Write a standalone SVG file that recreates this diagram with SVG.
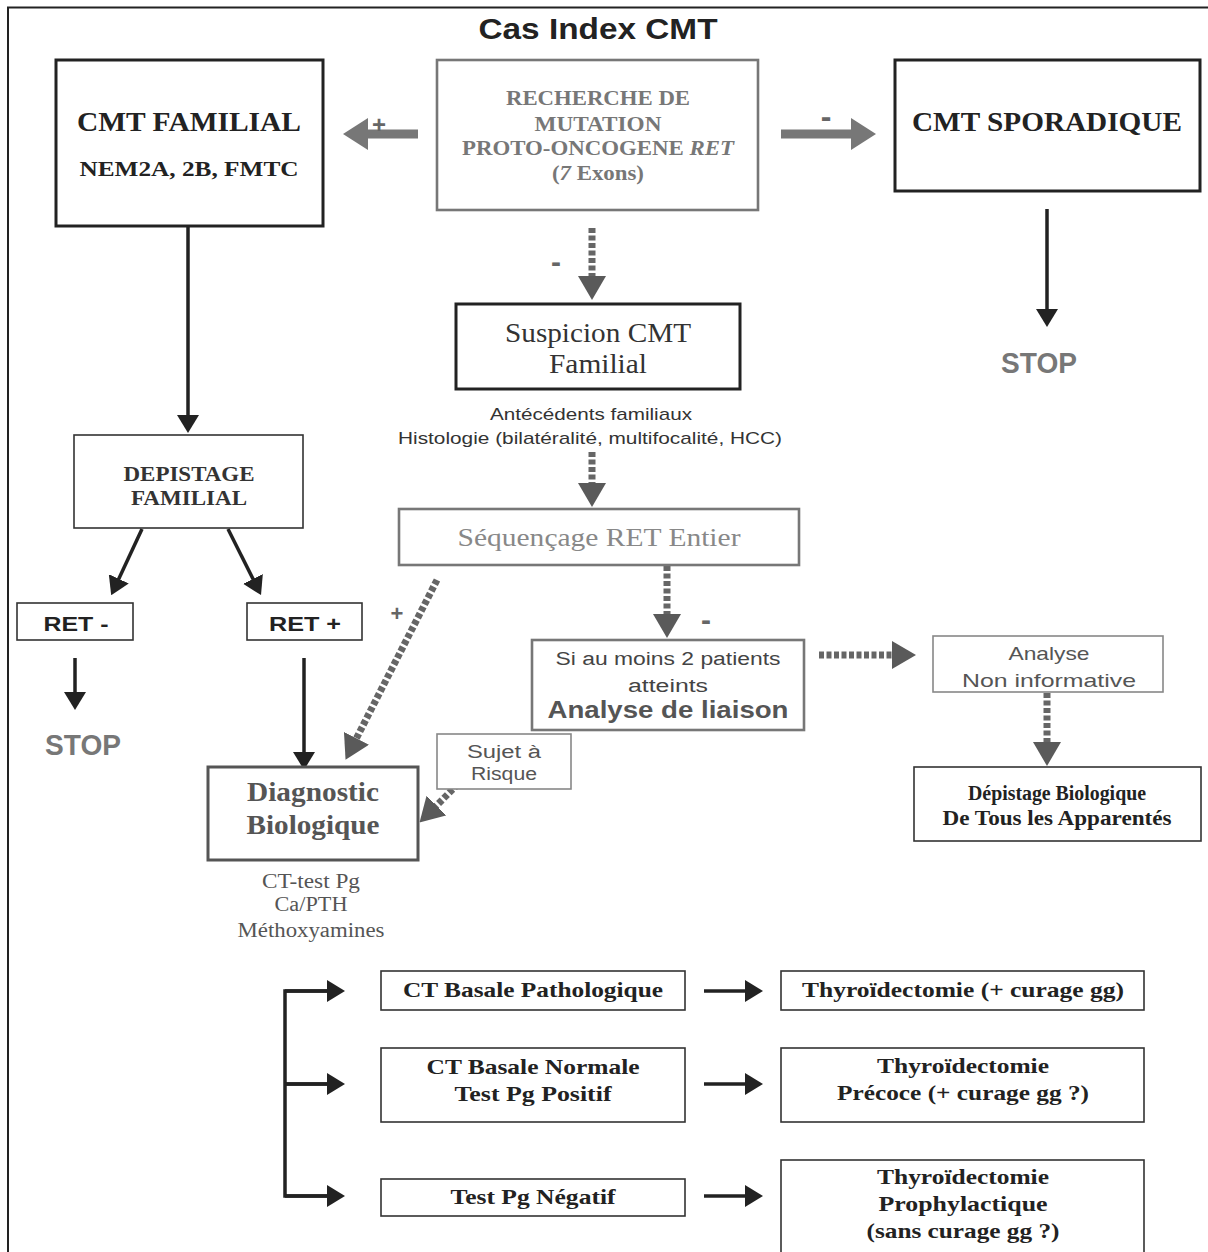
<svg xmlns="http://www.w3.org/2000/svg" width="1208" height="1252" viewBox="0 0 1208 1252">
<style>
.bx{fill:#fff;stroke:#222;stroke-width:3}
.bxt{fill:#fff;stroke:#333;stroke-width:1.6}
.bxg{fill:#fff;stroke:#777;stroke-width:2.6}
.bxgt{fill:#fff;stroke:#888;stroke-width:1.6}
.sb{font-family:"Liberation Serif",serif;font-weight:bold;text-anchor:middle}
.sr{font-family:"Liberation Serif",serif;text-anchor:middle}
.ss{font-family:"Liberation Sans",Arial,sans-serif;text-anchor:middle}
.ssb{font-family:"Liberation Sans",Arial,sans-serif;font-weight:bold;text-anchor:middle}
.sg{font-family:"Liberation Sans",Arial,sans-serif;font-weight:bold;text-anchor:middle;fill:#666}
.ln{fill:none;stroke:#222;stroke-width:3.5}
.dt{fill:none;stroke:#666;stroke-width:7;stroke-dasharray:5 2.5}
</style>
<defs>
<marker id="ab" viewBox="0 0 18 22" refX="9" refY="11" markerWidth="18" markerHeight="22" markerUnits="userSpaceOnUse" orient="auto"><path d="M0,0 L18,11 L0,22 z" fill="#222"/></marker>
<marker id="ag" viewBox="0 0 24 28" refX="12" refY="14" markerWidth="24" markerHeight="28" markerUnits="userSpaceOnUse" orient="auto"><path d="M0,0 L24,14 L0,28 z" fill="#5a5a5a"/></marker>
</defs>
<rect width="1208" height="1252" fill="#fff"/>
<path d="M8,1252 V7.5 H1208" fill="none" stroke="#222" stroke-width="2"/>
<text x="598" y="39" class="ssb" font-size="29" fill="#222" textLength="239" lengthAdjust="spacingAndGlyphs">Cas Index  CMT</text>

<g id="connectors">
<polygon points="343,134 368,118 368,129.5 418,129.5 418,138.5 368,138.5 368,150" fill="#777"/>
<polygon points="876,134 851,118 851,129.5 781,129.5 781,138.5 851,138.5 851,150" fill="#777"/>
<text x="379" y="133" class="sg" font-size="24">+</text>
<text x="826" y="127" class="sg" font-size="32">-</text>
<line x1="1047" y1="209" x2="1047" y2="318" class="ln" marker-end="url(#ab)"/>
<line x1="188" y1="226" x2="188" y2="424" class="ln" marker-end="url(#ab)"/>
<line x1="592" y1="228" x2="592" y2="288" class="dt" marker-end="url(#ag)"/>
<text x="556" y="272" class="sg" font-size="30">-</text>
<line x1="592" y1="452" x2="592" y2="495" class="dt" marker-end="url(#ag)"/>
<line x1="437" y1="580" x2="351" y2="749" class="dt" marker-end="url(#ag)"/>
<text x="397" y="621" class="sg" font-size="22">+</text>
<line x1="667" y1="566" x2="667" y2="626" class="dt" marker-end="url(#ag)"/>
<text x="706" y="630" class="sg" font-size="30">-</text>
<line x1="819" y1="655" x2="904" y2="655" class="dt" marker-end="url(#ag)"/>
<line x1="1047" y1="693" x2="1047" y2="754" class="dt" marker-end="url(#ag)"/>
<line x1="458" y1="784" x2="428" y2="814" class="dt" marker-end="url(#ag)"/>
<line x1="142" y1="529" x2="115" y2="587" class="ln" stroke-width="4" marker-end="url(#ab)"/>
<line x1="228" y1="529" x2="257" y2="587" class="ln" stroke-width="4" marker-end="url(#ab)"/>
<line x1="75" y1="658" x2="75" y2="701" class="ln" marker-end="url(#ab)"/>
<line x1="304" y1="658" x2="304" y2="761" class="ln" marker-end="url(#ab)"/>
<path d="M327,991 H285 V1196 H327 M285,1084 H327" class="ln" stroke-width="4"/>
<line x1="285" y1="991" x2="336" y2="991" class="ln" stroke-width="4" marker-end="url(#ab)"/>
<line x1="285" y1="1084" x2="336" y2="1084" class="ln" stroke-width="4" marker-end="url(#ab)"/>
<line x1="285" y1="1196" x2="336" y2="1196" class="ln" stroke-width="4" marker-end="url(#ab)"/>
<line x1="704" y1="991" x2="754" y2="991" class="ln" stroke-width="4" marker-end="url(#ab)"/>
<line x1="704" y1="1084" x2="754" y2="1084" class="ln" stroke-width="4" marker-end="url(#ab)"/>
<line x1="704" y1="1196" x2="754" y2="1196" class="ln" stroke-width="4" marker-end="url(#ab)"/>
</g>

<g id="cmt-familial">
<rect x="56" y="60" width="267" height="166" class="bx"/>
<text x="189" y="131" class="sb" font-size="28" fill="#222" textLength="224" lengthAdjust="spacingAndGlyphs">CMT FAMILIAL</text>
<text x="189" y="176" class="sb" font-size="22" fill="#222" textLength="219" lengthAdjust="spacingAndGlyphs">NEM2A, 2B, FMTC</text>
</g>
<g id="recherche">
<rect x="437" y="60" width="321" height="150" class="bxg"/>
<text x="598" y="105" class="sb" font-size="21" fill="#777" textLength="184" lengthAdjust="spacingAndGlyphs">RECHERCHE DE</text>
<text x="598" y="131" class="sb" font-size="21" fill="#777" textLength="127" lengthAdjust="spacingAndGlyphs">MUTATION</text>
<text x="598" y="155" class="sb" font-size="21" fill="#777" textLength="272" lengthAdjust="spacingAndGlyphs">PROTO-ONCOGENE <tspan font-style="italic">RET</tspan></text>
<text x="598" y="180" class="sb" font-size="21" fill="#777" textLength="92" lengthAdjust="spacingAndGlyphs">(<tspan font-style="italic">7</tspan> Exons)</text>
</g>
<g id="cmt-sporadique">
<rect x="895" y="60" width="305" height="131" class="bx"/>
<text x="1047" y="131" class="sb" font-size="28" fill="#222" textLength="270" lengthAdjust="spacingAndGlyphs">CMT SPORADIQUE</text>
</g>
<g id="stop-right">
<text x="1039" y="373" class="ssb" font-size="29" fill="#777" textLength="76" lengthAdjust="spacingAndGlyphs">STOP</text>
</g>
<g id="suspicion">
<rect x="456" y="304" width="284" height="85" class="bx"/>
<text x="598" y="342" class="sr" font-size="27" fill="#333" textLength="186" lengthAdjust="spacingAndGlyphs">Suspicion CMT</text>
<text x="598" y="373" class="sr" font-size="27" fill="#333" textLength="98" lengthAdjust="spacingAndGlyphs">Familial</text>
<text x="591" y="420" class="ss" font-size="17" fill="#333" textLength="202" lengthAdjust="spacingAndGlyphs">Antécédents  familiaux</text>
<text x="590" y="444" class="ss" font-size="17" fill="#333" textLength="384" lengthAdjust="spacingAndGlyphs">Histologie (bilatéralité,  multifocalité,  HCC)</text>
</g>
<g id="sequencage">
<rect x="399" y="509" width="400" height="56" class="bxg"/>
<text x="599" y="546" class="sr" font-size="26" fill="#888" textLength="283" lengthAdjust="spacingAndGlyphs">Séquençage RET Entier</text>
</g>
<g id="depistage-familial">
<rect x="74" y="435" width="229" height="93" class="bxt"/>
<text x="189" y="481" class="sb" font-size="20" fill="#333" textLength="131" lengthAdjust="spacingAndGlyphs">DEPISTAGE</text>
<text x="189" y="505" class="sb" font-size="20" fill="#333" textLength="116" lengthAdjust="spacingAndGlyphs">FAMILIAL</text>
</g>
<g id="ret-minus">
<rect x="17" y="603" width="116" height="37" class="bxt"/>
<text x="76" y="631" class="ssb" font-size="21" fill="#222" textLength="65" lengthAdjust="spacingAndGlyphs">RET  -</text>
</g>
<g id="ret-plus">
<rect x="247" y="603" width="115" height="37" class="bxt"/>
<text x="305" y="631" class="ssb" font-size="21" fill="#222" textLength="72" lengthAdjust="spacingAndGlyphs">RET  +</text>
</g>
<g id="stop-left">
<text x="83" y="755" class="ssb" font-size="29" fill="#777" textLength="76" lengthAdjust="spacingAndGlyphs">STOP</text>
</g>
<g id="liaison">
<rect x="532" y="640" width="272" height="90" class="bxg"/>
<text x="668" y="665" class="ss" font-size="18" fill="#444" textLength="225" lengthAdjust="spacingAndGlyphs">Si au moins 2 patients</text>
<text x="668" y="692" class="ss" font-size="18" fill="#444" textLength="80" lengthAdjust="spacingAndGlyphs">atteints</text>
<text x="668" y="718" class="ssb" font-size="23" fill="#555" textLength="241" lengthAdjust="spacingAndGlyphs">Analyse  de  liaison</text>
</g>
<g id="non-informative">
<rect x="933" y="636" width="230" height="56" class="bxgt"/>
<text x="1049" y="660" class="ss" font-size="19" fill="#555" textLength="81" lengthAdjust="spacingAndGlyphs">Analyse</text>
<text x="1049" y="687" class="ss" font-size="19" fill="#555" textLength="174" lengthAdjust="spacingAndGlyphs">Non  informative</text>
</g>
<g id="depistage-biologique">
<rect x="914" y="767" width="287" height="74" class="bxt"/>
<text x="1057" y="800" class="sb" font-size="20" fill="#222" textLength="178" lengthAdjust="spacingAndGlyphs">Dépistage Biologique</text>
<text x="1057" y="825" class="sb" font-size="20" fill="#222" textLength="229" lengthAdjust="spacingAndGlyphs">De Tous les Apparentés</text>
</g>
<g id="sujet-risque">
<rect x="437" y="734" width="134" height="55" class="bxgt"/>
<text x="504" y="758" class="ss" font-size="18" fill="#555" textLength="74" lengthAdjust="spacingAndGlyphs">Sujet à</text>
<text x="504" y="780" class="ss" font-size="18" fill="#555" textLength="66" lengthAdjust="spacingAndGlyphs">Risque</text>
</g>
<g id="diagnostic">
<rect x="208" y="767" width="210" height="93" fill="#fff" stroke="#555" stroke-width="3"/>
<text x="313" y="801" class="sb" font-size="27" fill="#555" textLength="132" lengthAdjust="spacingAndGlyphs">Diagnostic</text>
<text x="313" y="834" class="sb" font-size="27" fill="#555" textLength="133" lengthAdjust="spacingAndGlyphs">Biologique</text>
<text x="311" y="888" class="sr" font-size="20" fill="#555" textLength="98" lengthAdjust="spacingAndGlyphs">CT-test Pg</text>
<text x="311" y="911" class="sr" font-size="20" fill="#555" textLength="73" lengthAdjust="spacingAndGlyphs">Ca/PTH</text>
<text x="311" y="937" class="sr" font-size="20" fill="#555" textLength="147" lengthAdjust="spacingAndGlyphs">Méthoxyamines</text>
</g>
<g id="ct-pathologique">
<rect x="381" y="971" width="304" height="39" class="bxt"/>
<text x="533" y="997" class="sb" font-size="21" fill="#222" textLength="260" lengthAdjust="spacingAndGlyphs">CT Basale Pathologique</text>
</g>
<g id="ct-normale">
<rect x="381" y="1048" width="304" height="74" class="bxt"/>
<text x="533" y="1074" class="sb" font-size="21" fill="#222" textLength="213" lengthAdjust="spacingAndGlyphs">CT Basale Normale</text>
<text x="533" y="1101" class="sb" font-size="21" fill="#222" textLength="157" lengthAdjust="spacingAndGlyphs">Test Pg Positif</text>
</g>
<g id="test-negatif">
<rect x="381" y="1179" width="304" height="37" class="bxt"/>
<text x="533" y="1204" class="sb" font-size="21" fill="#222" textLength="165" lengthAdjust="spacingAndGlyphs">Test Pg Négatif</text>
</g>
<g id="thyro-1">
<rect x="781" y="971" width="363" height="39" class="bxt"/>
<text x="963" y="997" class="sb" font-size="21" fill="#222" textLength="322" lengthAdjust="spacingAndGlyphs">Thyroïdectomie (+ curage gg)</text>
</g>
<g id="thyro-2">
<rect x="781" y="1048" width="363" height="74" class="bxt"/>
<text x="963" y="1073" class="sb" font-size="21" fill="#222" textLength="172" lengthAdjust="spacingAndGlyphs">Thyroïdectomie</text>
<text x="963" y="1100" class="sb" font-size="21" fill="#222" textLength="252" lengthAdjust="spacingAndGlyphs">Précoce (+ curage gg ?)</text>
</g>
<g id="thyro-3">
<rect x="781" y="1160" width="363" height="100" class="bxt"/>
<text x="963" y="1184" class="sb" font-size="21" fill="#222" textLength="172" lengthAdjust="spacingAndGlyphs">Thyroïdectomie</text>
<text x="963" y="1211" class="sb" font-size="21" fill="#222" textLength="169" lengthAdjust="spacingAndGlyphs">Prophylactique</text>
<text x="963" y="1238" class="sb" font-size="21" fill="#222" textLength="193" lengthAdjust="spacingAndGlyphs">(sans curage gg ?)</text>
</g>
</svg>
